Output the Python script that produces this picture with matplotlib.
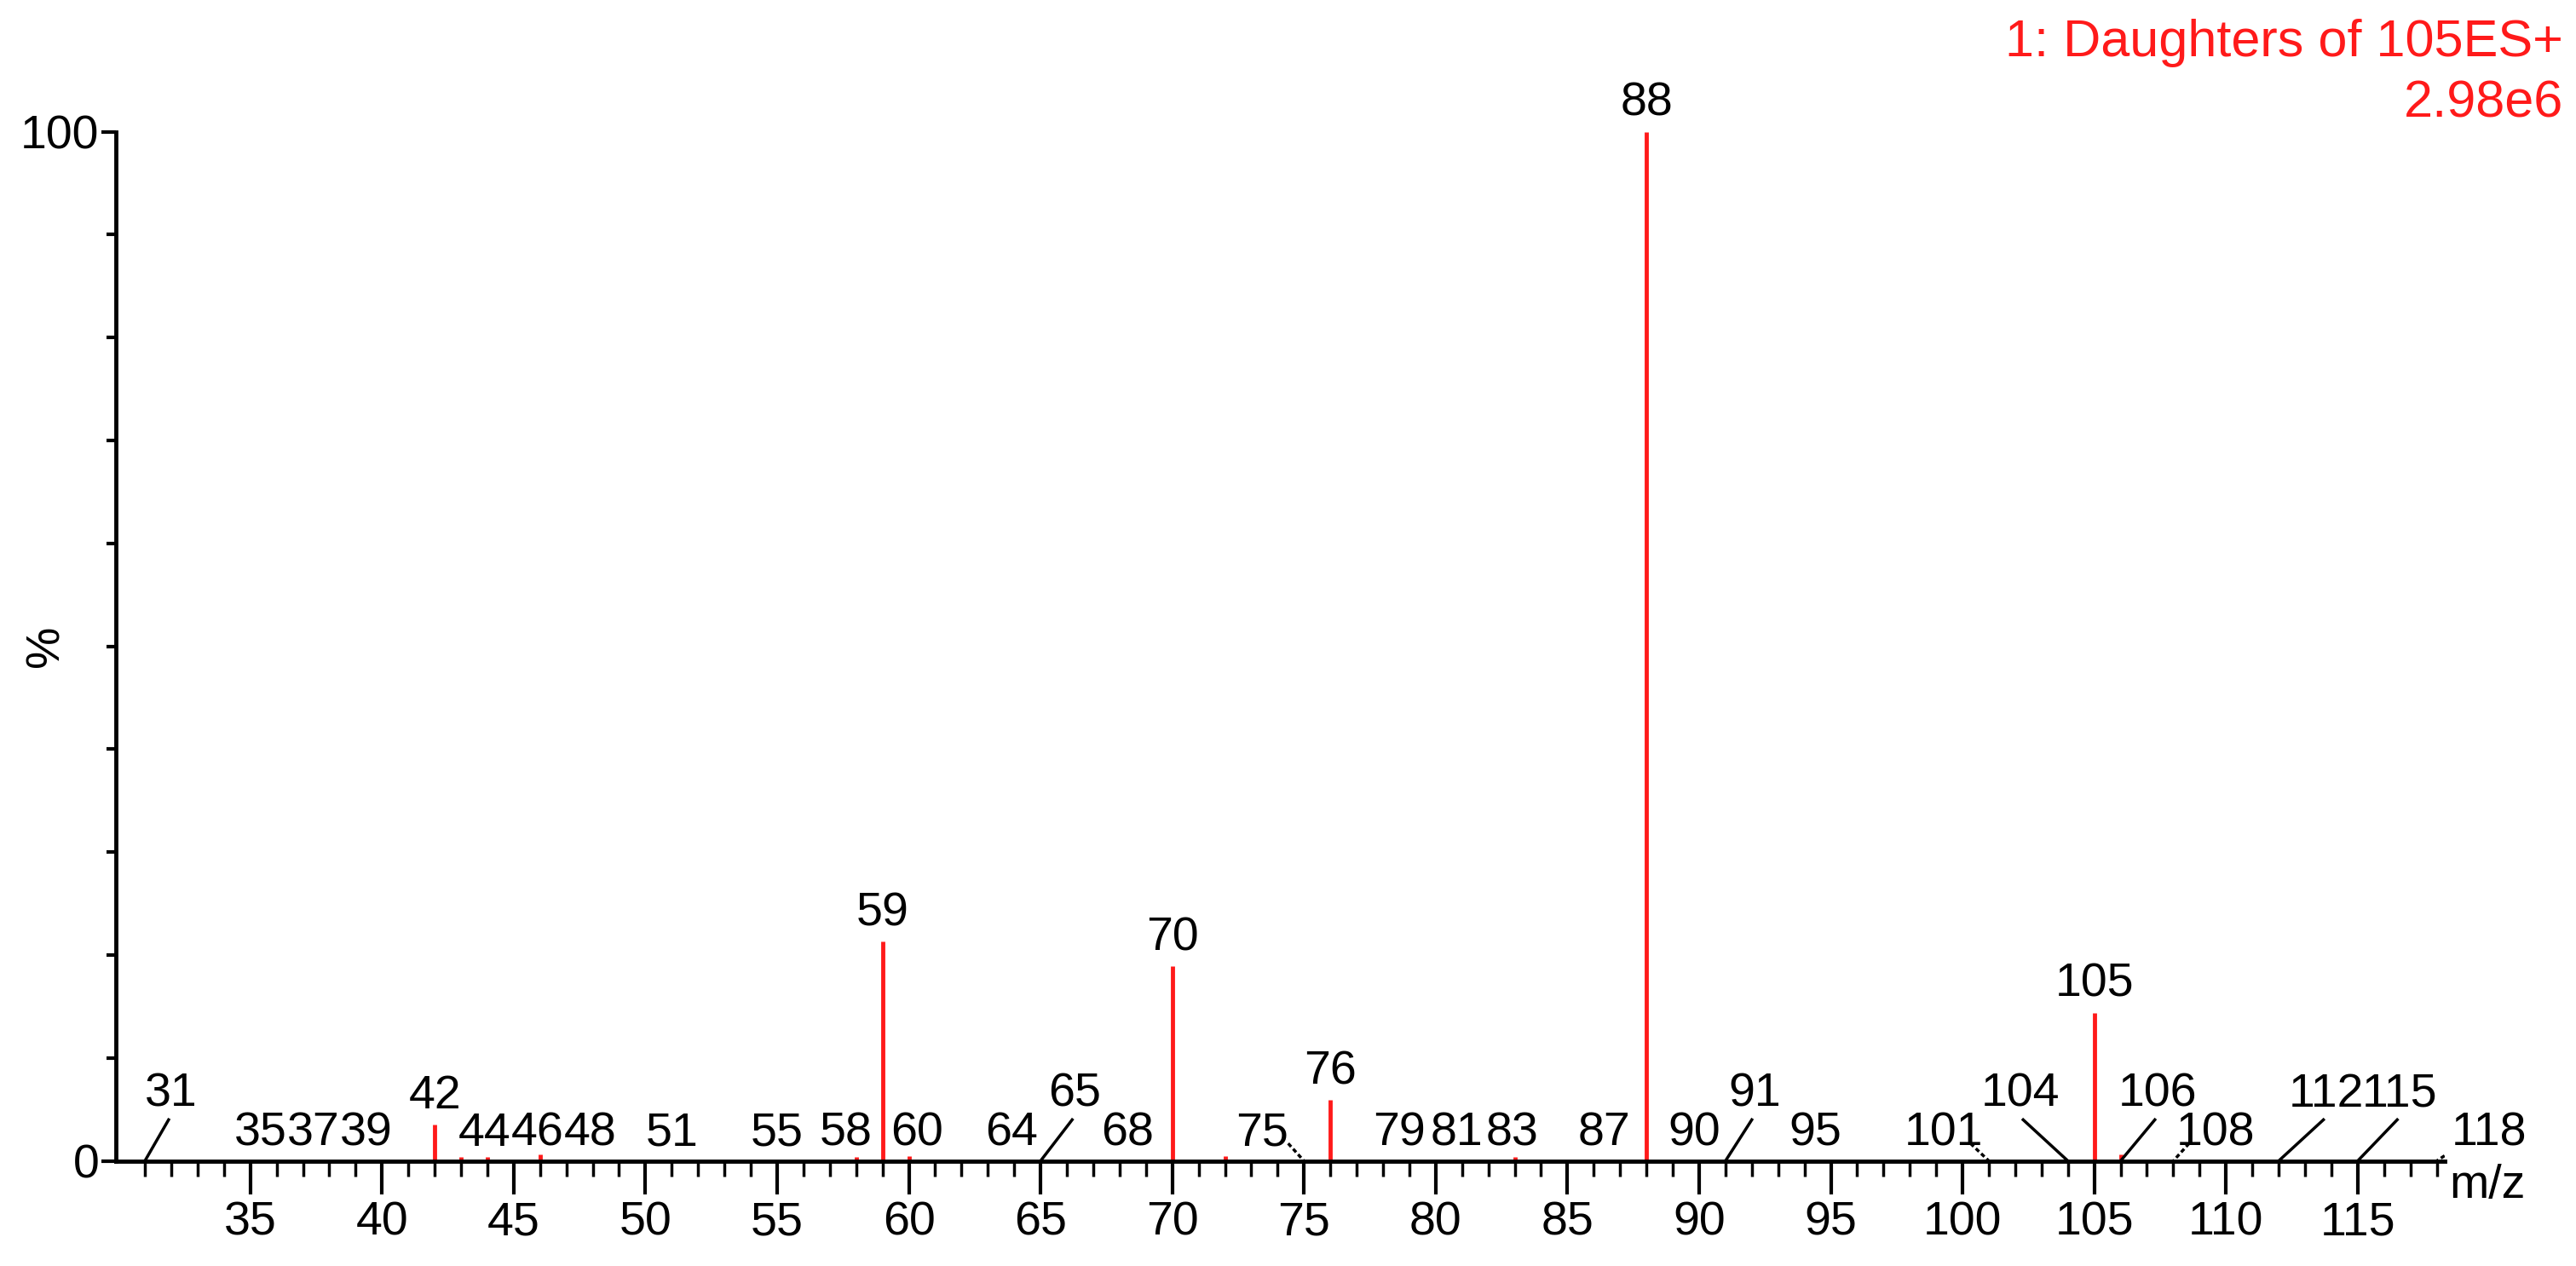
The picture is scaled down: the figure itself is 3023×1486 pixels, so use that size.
import matplotlib
matplotlib.use("Agg")
import matplotlib.pyplot as plt

plt.rcParams['font.family'] = ['Liberation Sans', 'DejaVu Sans']

# red peaks (m/z, relative intensity %)
peak_mz = [42, 43, 44, 46, 58, 59, 60, 70, 72, 76, 83, 88, 105, 106]
peak_int = [3.5, 0.4, 0.4, 0.6, 0.4, 21.3, 0.5, 18.9, 0.5, 5.9, 0.4, 100, 14.4, 0.6]
# labels on top of tall peaks
top_labels = [42, 59, 70, 76, 88, 105]
# small labels sitting on the baseline: (mz, label x)
base_mz = [35, 37, 39, 44, 46, 48, 51, 55, 58, 60, 64, 68, 79, 81, 83, 87, 90, 95]
base_x = [35.4, 37.4, 39.4, 43.9, 45.9, 47.9, 51.0, 55.0, 57.6, 60.3, 63.9, 68.3, 78.6, 80.8, 82.9, 86.4, 89.8, 94.4]
# labels with leader lines
lead_mz = [31, 65, 91, 104, 106, 112, 115, 75, 101, 108, 118]
lead_x = [32.0, 66.3, 92.1, 102.2, 107.4, 113.8, 116.6, 73.4, 99.3, 109.6, 120.0]
lead_y = [5.3, 5.3, 5.3, 5.3, 5.3, 5.3, 5.3, 2.0, 2.0, 2.0, 2.0]
lead_dot = [False] * 7 + [True] * 4

RED = "#ff1a1a"
FS = 40
fig = plt.figure(figsize=(30.23, 14.86), dpi=100)
ax = fig.add_axes([0.045, 0.083, 0.904, 0.813])
ax.vlines(peak_mz, 0, peak_int, color=RED, lw=3.5)
ax.set_xlim(29.9, 118.3)
ax.set_ylim(0, 100)
for s in ['top', 'right']:
    ax.spines[s].set_visible(False)
for s in ['left', 'bottom']:
    ax.spines[s].set_linewidth(3.5)
ax.set_xticks(range(35, 119, 5))
ax.set_xticks(range(31, 119), minor=True)
ax.set_yticks([0, 100])
ax.set_yticks(range(0, 101, 10), minor=True)
ax.tick_params(axis='x', which='major', direction='out', length=28, width=3, labelsize=FS, pad=6)
ax.tick_params(axis='x', which='minor', direction='out', length=13, width=2.5)
ax.tick_params(axis='y', which='major', direction='out', length=12, width=3, labelsize=FS, pad=2)
ax.tick_params(axis='y', which='minor', direction='out', length=8, width=3)
ax.set_yticklabels(["0", "100"])

ax.text(-0.03, 0.5, "%", transform=ax.transAxes, rotation=90, fontsize=FS, ha='center', va='center')
for m in top_labels:
    ax.text(m, peak_int[peak_mz.index(m)] + 0.6, str(m), fontsize=FS, ha='center', va='bottom')
for m, x in zip(base_mz, base_x):
    ax.text(x, 0.5, str(m), fontsize=FS, ha='center', va='bottom')
for m, x, y, d in zip(lead_mz, lead_x, lead_y, lead_dot):
    if d:
        ax.text(x, y - 1.5, str(m), fontsize=FS, ha='center', va='bottom')
        lx = x + 1.0 if x < m else x - 1.0
        ax.plot([lx, m], [y - 0.3, 0], color='black', lw=2.5, ls=(0, (1.5, 1)))
    else:
        ax.text(x, y - 1.0, str(m), fontsize=FS, ha='center', va='bottom')
        ax.plot([x - 0.1 if x > m else x + 0.1, m], [y - 1.3, 0], color='black', lw=2.5)

ax.text(1.002, -0.003, "m/z", transform=ax.transAxes, fontsize=FS, ha='left', va='top')
fig.text(0.995, 0.985, "1: Daughters of 105ES+", color=RED, fontsize=44, ha='right', va='top')
fig.text(0.995, 0.937, "2.98e6", color=RED, fontsize=44, ha='right', va='top')
fig.savefig("out.png", dpi=100)
